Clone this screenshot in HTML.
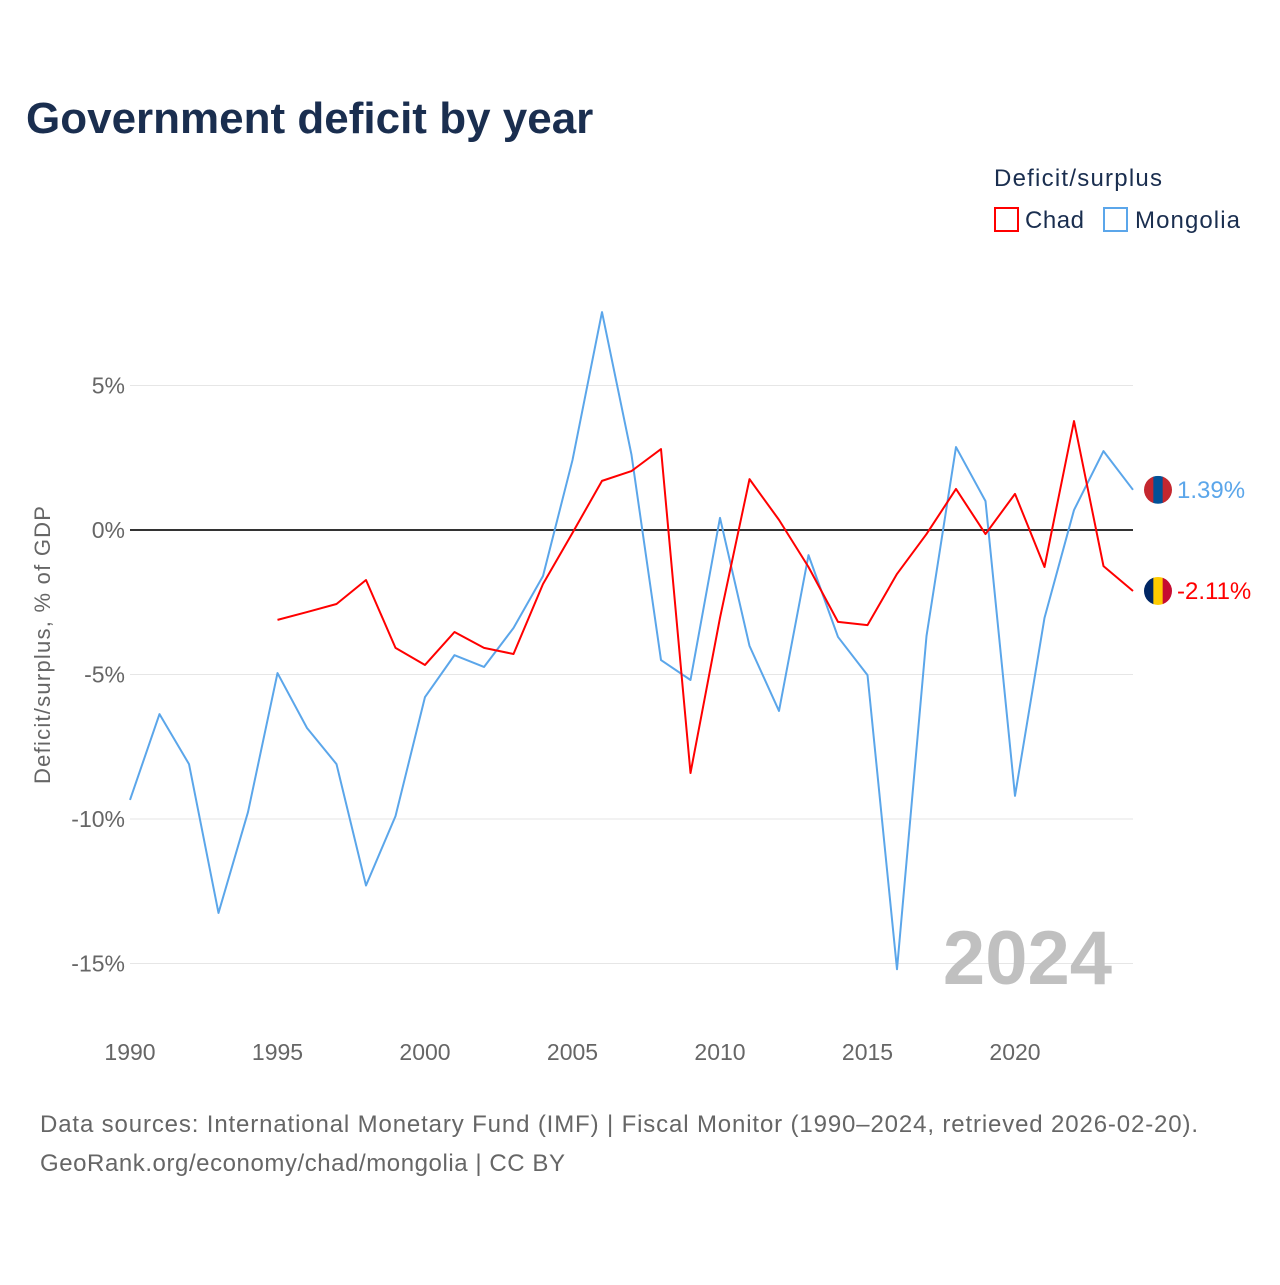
<!DOCTYPE html>
<html><head><meta charset="utf-8"><style>
body{margin:0;background:#fff;width:1280px;height:1280px;overflow:hidden;font-family:"Liberation Sans",sans-serif}
</style></head><body>
<svg width="1280" height="1280" font-family="Liberation Sans, sans-serif">
<text x="26" y="133" font-size="44" font-weight="bold" fill="#1a2e4f">Government deficit by year</text>
<text x="994" y="186" font-size="24" fill="#1a2e4f" textLength="168">Deficit/surplus</text>
<g><rect x="995" y="208" width="23" height="23" fill="none" stroke="#ff0000" stroke-width="2"/><text x="1025" y="228" font-size="24" fill="#1a2e4f" textLength="59">Chad</text></g>
<g><rect x="1104" y="208" width="23" height="23" fill="none" stroke="#5ba6ea" stroke-width="2"/><text x="1135" y="228" font-size="24" fill="#1a2e4f" textLength="105">Mongolia</text></g>
<g id="grid"></g><g id="xt"></g><g id="series"></g>
<text transform="translate(50,645) rotate(-90)" text-anchor="middle" font-size="22" fill="#666" textLength="278">Deficit/surplus, % of GDP</text>
<text x="1112" y="984" text-anchor="end" font-size="76" font-weight="bold" fill="#c0c0c0">2024</text>
<text x="40" y="1132" font-size="24" fill="#666" textLength="1158">Data sources: International Monetary Fund (IMF) | Fiscal Monitor (1990–2024, retrieved 2026-02-20).</text>
<text x="40" y="1171" font-size="24" fill="#666" textLength="525">GeoRank.org/economy/chad/mongolia | CC BY</text>
</svg>
<script>
const yTicks=[5,0,-5,-10,-15];
const yTickLabels=["5%","0%","-5%","-10%","-15%"];
const xTicks=[1990,1995,2000,2005,2010,2015,2020];
const mongoliaYears=[1990,1991,1992,1993,1994,1995,1996,1997,1998,1999,2000,2001,2002,2003,2004,2005,2006,2007,2008,2009,2010,2011,2012,2013,2014,2015,2016,2017,2018,2019,2020,2021,2022,2023,2024];
const mongoliaValues=[-9.34,-6.37,-8.1,-13.25,-9.76,-4.95,-6.85,-8.1,-12.3,-9.9,-5.78,-4.33,-4.74,-3.39,-1.59,2.42,7.54,2.6,-4.5,-5.19,0.42,-4.01,-6.26,-0.87,-3.7,-5.02,-15.2,-3.67,2.87,1.0,-9.2,-3.04,0.69,2.73,1.39];
const chadYears=[1995,1996,1997,1998,1999,2000,2001,2002,2003,2004,2005,2006,2007,2008,2009,2010,2011,2012,2013,2014,2015,2016,2017,2018,2019,2020,2021,2022,2023,2024];
const chadValues=[-3.11,-2.84,-2.56,-1.73,-4.08,-4.67,-3.53,-4.08,-4.29,-1.87,-0.1,1.7,2.04,2.8,-8.41,-3.04,1.76,0.35,-1.28,-3.18,-3.29,-1.52,-0.14,1.42,-0.14,1.25,-1.28,3.77,-1.25,-2.11];
const NS="http://www.w3.org/2000/svg";
const X=y=>130+(y-1990)*29.5;
const Y=v=>530-v*28.9;
function mk(t,a,p){const e=document.createElementNS(NS,t);for(const k in a)e.setAttribute(k,a[k]);p.appendChild(e);return e;}
const grid=document.getElementById('grid');
yTicks.forEach((v,i)=>{
 const l=mk('line',{x1:130,x2:1133,y1:Y(v),y2:Y(v),stroke:v===0?'#333':'#e6e6e6','stroke-width':v===0?2:1},grid);
 
 
 const t=mk('text',{x:125,y:Y(v)+8,'text-anchor':'end','font-size':23,fill:'#666'},grid);
 t.textContent=yTickLabels[i];
 
 
});
const xt=document.getElementById('xt');
xTicks.forEach(y=>{
 const t=mk('text',{x:X(y),y:1060,'text-anchor':'middle','font-size':23,fill:'#666'},xt);
 t.textContent=y;
 
 
});
const s=document.getElementById('series');
function line(ys,vs,c,name){
 const p=mk('polyline',{points:ys.map((y,i)=>X(y)+','+Y(vs[i])).join(' '),fill:'none',stroke:c,'stroke-width':2,'stroke-linejoin':'round'},s);
 
 
}
line(mongoliaYears,mongoliaValues,'#5ba6ea','mongolia-line');
line(chadYears,chadValues,'#ff0000','chad-line');
function endLabel(v,c,name,flag){
 const cx=1158,cy=Y(v);
 const g=mk('g',{},s);
 
 
 const cp=mk('clipPath',{id:'cp'+name},g);mk('circle',{cx:cx,cy:cy,r:14},cp);
 const f=mk('g',{'clip-path':'url(#cp'+name+')'},g);
 flag.forEach((col,i)=>mk('rect',{x:cx-14+i*28/3,y:cy-14,width:28/3+0.5,height:28,fill:col},f));
 const t=mk('text',{x:1177,y:cy+8,'font-size':24,fill:c},s);
 t.textContent=v.toFixed(2)+'%';
 
 
}
endLabel(mongoliaValues[mongoliaValues.length-1],'#5ba6ea','mongolia',['#c4272f','#015197','#c4272f']);
endLabel(chadValues[chadValues.length-1],'#ff0000','chad',['#002664','#fecb00','#c60c30']);
</script>
</body></html>
